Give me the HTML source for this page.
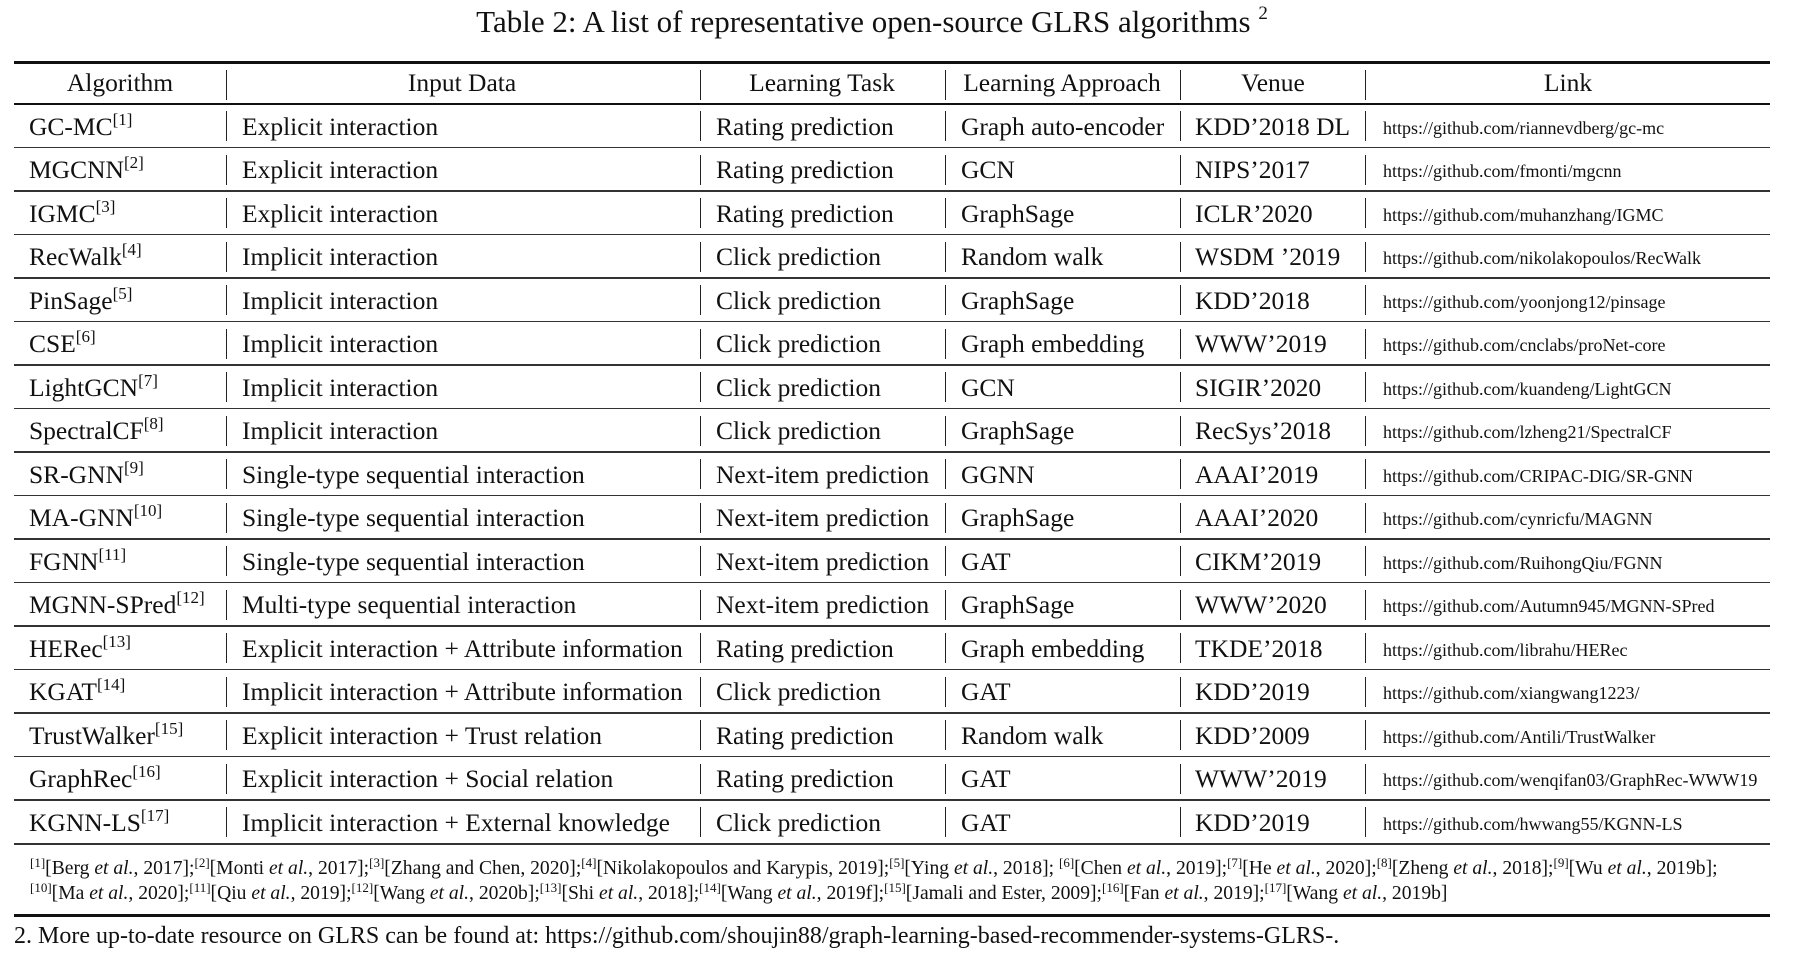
<!DOCTYPE html>
<html><head><meta charset="utf-8">
<style>
body{margin:0;width:1812px;height:956px;background:#fff;position:relative;overflow:hidden;font-family:"Liberation Serif",serif;color:#111}
.a{position:absolute;white-space:nowrap}
.t{font-size:25.5px;line-height:44px;height:44px}
.c{transform:translateX(-50%)}
.l{font-size:18px}
sup{font-size:17px;vertical-align:10px;line-height:0}
.sep{position:absolute;width:1px;background:#222;height:30px}
.hl{position:absolute;left:14px;width:1756px;background:#333;height:1.5px}
.fn{font-size:19.6px;line-height:24px}
.fn sup{font-size:13px;vertical-align:7px}
</style></head><body>
<div class="a c" style="left:872px;top:4px;font-size:31px">Table 2: A list of representative open-source GLRS algorithms <sup style="font-size:19px;vertical-align:13px">2</sup></div>
<div class="hl" style="top:61px;height:2.5px;background:#111"></div>
<div class="hl" style="top:103px;height:2px;background:#111"></div>
<div id="hdr"></div>
<div id="rows"></div>
<div class="a fn" style="left:30px;top:857px"><sup>[1]</sup>[Berg <i>et al.</i>, 2017];<sup>[2]</sup>[Monti <i>et al.</i>, 2017];<sup>[3]</sup>[Zhang and Chen, 2020];<sup>[4]</sup>[Nikolakopoulos and Karypis, 2019];<sup>[5]</sup>[Ying <i>et al.</i>, 2018]; <sup>[6]</sup>[Chen <i>et al.</i>, 2019];<sup>[7]</sup>[He <i>et al.</i>, 2020];<sup>[8]</sup>[Zheng <i>et al.</i>, 2018];<sup>[9]</sup>[Wu <i>et al.</i>, 2019b];</div>
<div class="a fn" style="left:30px;top:882px"><sup>[10]</sup>[Ma <i>et al.</i>, 2020];<sup>[11]</sup>[Qiu <i>et al.</i>, 2019];<sup>[12]</sup>[Wang <i>et al.</i>, 2020b];<sup>[13]</sup>[Shi <i>et al.</i>, 2018];<sup>[14]</sup>[Wang <i>et al.</i>, 2019f];<sup>[15]</sup>[Jamali and Ester, 2009];<sup>[16]</sup>[Fan <i>et al.</i>, 2019];<sup>[17]</sup>[Wang <i>et al.</i>, 2019b]</div>
<div class="hl" style="top:914px;height:2.5px;background:#111"></div>
<div class="a" style="left:14px;top:923px;font-size:24px">2. More up-to-date resource on GLRS can be found at: https://github.com/shoujin88/graph-learning-based-recommender-systems-GLRS-.</div>
<script>
const headers=["Algorithm","Input Data","Learning Task","Learning Approach","Venue","Link"];
const hcx=[120,462,822,1062,1273,1568];
const colx=[29,242,716,961,1195,1383];
const seps=[226,700,945,1180,1365];
const data=[
["GC-MC","1","Explicit interaction","Rating prediction","Graph auto-encoder","KDD’2018 DL","https://github.com/riannevdberg/gc-mc"],
["MGCNN","2","Explicit interaction","Rating prediction","GCN","NIPS’2017","https://github.com/fmonti/mgcnn"],
["IGMC","3","Explicit interaction","Rating prediction","GraphSage","ICLR’2020","https://github.com/muhanzhang/IGMC"],
["RecWalk","4","Implicit interaction","Click prediction","Random walk","WSDM ’2019","https://github.com/nikolakopoulos/RecWalk"],
["PinSage","5","Implicit interaction","Click prediction","GraphSage","KDD’2018","https://github.com/yoonjong12/pinsage"],
["CSE","6","Implicit interaction","Click prediction","Graph embedding","WWW’2019","https://github.com/cnclabs/proNet-core"],
["LightGCN","7","Implicit interaction","Click prediction","GCN","SIGIR’2020","https://github.com/kuandeng/LightGCN"],
["SpectralCF","8","Implicit interaction","Click prediction","GraphSage","RecSys’2018","https://github.com/lzheng21/SpectralCF"],
["SR-GNN","9","Single-type sequential interaction","Next-item prediction","GGNN","AAAI’2019","https://github.com/CRIPAC-DIG/SR-GNN"],
["MA-GNN","10","Single-type sequential interaction","Next-item prediction","GraphSage","AAAI’2020","https://github.com/cynricfu/MAGNN"],
["FGNN","11","Single-type sequential interaction","Next-item prediction","GAT","CIKM’2019","https://github.com/RuihongQiu/FGNN"],
["MGNN-SPred","12","Multi-type sequential interaction","Next-item prediction","GraphSage","WWW’2020","https://github.com/Autumn945/MGNN-SPred"],
["HERec","13","Explicit interaction + Attribute information","Rating prediction","Graph embedding","TKDE’2018","https://github.com/librahu/HERec"],
["KGAT","14","Implicit interaction + Attribute information","Click prediction","GAT","KDD’2019","https://github.com/xiangwang1223/"],
["TrustWalker","15","Explicit interaction + Trust relation","Rating prediction","Random walk","KDD’2009","https://github.com/Antili/TrustWalker"],
["GraphRec","16","Explicit interaction + Social relation","Rating prediction","GAT","WWW’2019","https://github.com/wenqifan03/GraphRec-WWW19"],
["KGNN-LS","17","Implicit interaction + External knowledge","Click prediction","GAT","KDD’2019","https://github.com/hwwang55/KGNN-LS"]
];
const hdr=document.getElementById('hdr');
headers.forEach((h,i)=>{
  const d=document.createElement('div');
  d.className='a t c';
  
  
  d.style.left=hcx[i]+'px';d.style.top='62px';d.style.lineHeight='42px';
  d.textContent=h;hdr.appendChild(d);
});
seps.forEach(x=>{
  const s=document.createElement('div');s.className='sep';
  
  
  s.style.left=x+'px';s.style.top='70px';hdr.appendChild(s);
});
const rows=document.getElementById('rows');
const top0=104,rh=43.53;
data.forEach((r,i)=>{
  const y=top0+i*rh;
  const cells=[r[0]+'<sup>['+r[1]+']</sup>',r[2],r[3],r[4],r[5],r[6]];
  cells.forEach((c,j)=>{
    const d=document.createElement('div');
    d.className='a t'+(j==5?' l':'');
    
    
    d.style.left=colx[j]+'px';d.style.top=(y+0.5)+'px';
    if(j==5){d.style.lineHeight='46px';}
    d.innerHTML=c;rows.appendChild(d);
  });
  seps.forEach(x=>{
    const s=document.createElement('div');s.className='sep';
    
    
    s.style.left=x+'px';s.style.top=(y+7)+'px';rows.appendChild(s);
  });
  const l=document.createElement('div');l.className='hl';
  
  
  l.style.top=(y+rh-1)+'px';rows.appendChild(l);
});
</script>
</body></html>
